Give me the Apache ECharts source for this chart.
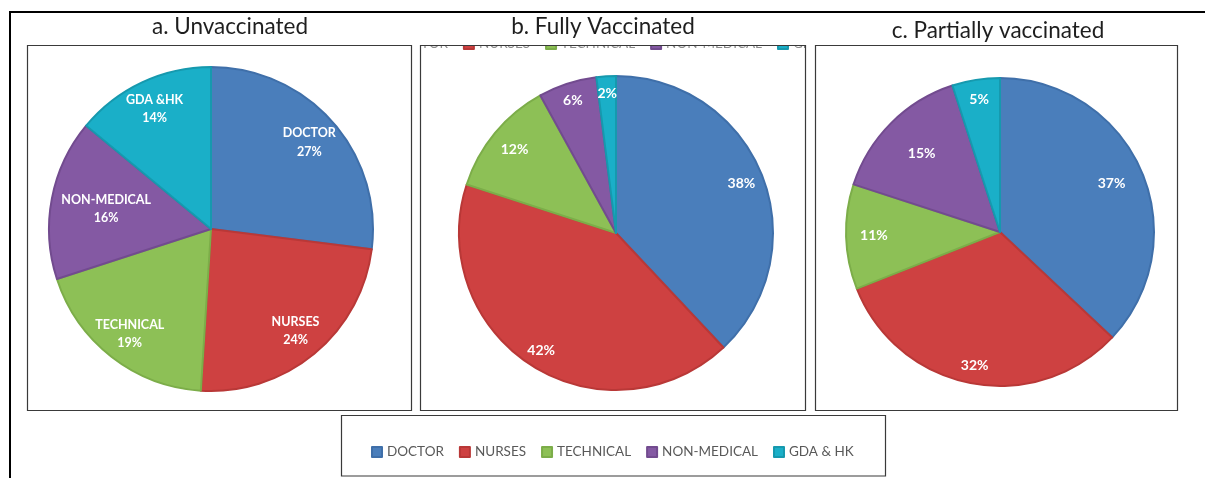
<!DOCTYPE html>
<html><head><meta charset="utf-8">
<script src="https://cdn.jsdelivr.net/npm/echarts@6/dist/echarts.min.js"></script>
<style>html,body{margin:0;padding:0;background:#fff}#c{width:1205px;height:478px}</style>
</head><body><div id="c"></div>
<script>
// ---- data ----
const categories = ['DOCTOR', 'NURSES', 'TECHNICAL', 'NON-MEDICAL', 'GDA & HK'];
const labelNamesA = ['DOCTOR', 'NURSES', 'TECHNICAL', 'NON-MEDICAL', 'GDA &HK'];
const unvaccinated = [27, 24, 19, 16, 14];
const fullyVaccinated = [38, 42, 12, 6, 2];
const partiallyVaccinated = [37, 32, 11, 15, 5];
const titles = ['a. Unvaccinated', 'b. Fully Vaccinated', 'c. Partially vaccinated'];

// ---- styles / layout ----
const colors = ['#4a7ebb', '#ce4141', '#8dc056', '#8459a3', '#1aafc8'];
const borders = ['#3f6fa9', '#b93837', '#7cad49', '#724b8f', '#1699ae'];
const pies = [
  { values: unvaccinated, center: [211, 229], r: 162, fs: 12.5, names: labelNamesA, fracs: [0.79, 0.8, 0.8, 0.64, 0.8] },
  { values: fullyVaccinated, center: [616, 233], r: 157, fs: 14, names: null, fracs: [0.84, 0.87, 0.82, 0.87, 0.87] },
  { values: partiallyVaccinated, center: [1000, 232], r: 154, fs: 14, names: null, fracs: [0.77, 0.86, 0.8, 0.7, 0.85] }
];
const FONT = 'Lato, "Open Sans", sans-serif';

const series = [];
pies.forEach(p => {
  series.push({
    type: 'pie', center: p.center, radius: [0, p.r], startAngle: 90, clockwise: true,
    silent: true, avoidLabelOverlap: false,
    label: { show: false }, labelLine: { show: false }, emphasis: { disabled: true },
    data: p.values.map((v, i) => ({ name: categories[i], value: v,
      itemStyle: { color: colors[i], borderColor: borders[i], borderWidth: 2 } }))
  });
});
// label overlays: transparent rings so the library's 'inside' label lands at the wanted radius
pies.forEach(p => {
  const uniq = [...new Set(p.fracs)];
  uniq.forEach(f => {
    series.push({
      type: 'pie', center: p.center, radius: [p.r * (2 * f - 1), p.r], startAngle: 90, clockwise: true,
      silent: true, avoidLabelOverlap: false, labelLine: { show: false }, emphasis: { disabled: true },
      itemStyle: { color: 'rgba(0,0,0,0)', borderWidth: 0 },
      label: { show: true, position: 'inside', color: '#fff', fontWeight: 'bold', fontSize: p.fs,
        fontFamily: FONT, lineHeight: p.fs + 6, textBorderWidth: 0,
        formatter: prm => (p.names ? p.names[prm.dataIndex] + '\n' : '') + prm.value + '%' },
      data: p.values.map((v, i) => ({ name: categories[i], value: v,
        label: { show: p.fracs[i] === f } }))
    });
  });
});

const legendData = categories.map((n, i) => ({ name: n, itemStyle: { color: colors[i] } }));

const line = (x1, y1, x2, y2, w, c, z) => ({ type: 'line', z: z, silent: true,
  shape: { x1, y1, x2, y2 }, style: { stroke: c, lineWidth: w } });
const box = (x, y, w, h, z) => ({ type: 'rect', z: z, silent: true,
  shape: { x, y, width: w, height: h }, style: { fill: 'none', stroke: '#3a3a3a', lineWidth: 1.2 } });
const cover = (x, y, w, h) => ({ type: 'rect', z: 100, silent: true,
  shape: { x, y, width: w, height: h }, style: { fill: '#fff' } });
const title = (t, x, y) => ({ type: 'text', z: 200, silent: true,
  style: { text: t, x, y, align: 'center', verticalAlign: 'middle', fontSize: 22.5, fontFamily: FONT, fill: '#1e1e1e' } });

const option = {
  animation: false,
  series: series,
  legend: [
    { data: legendData, left: 371, top: 445, padding: 0, itemWidth: 10, itemHeight: 10, itemGap: 15, icon: 'rect',
      selectedMode: false, textStyle: { color: '#595959', fontSize: 13.5, fontFamily: FONT } },
    // clipped legend remnant along the top edge of panel b
    { data: legendData, left: 375, top: 37, padding: 0, itemWidth: 10, itemHeight: 10, itemGap: 15, icon: 'rect',
      selectedMode: false, textStyle: { color: '#8c8c8c', fontSize: 13.5, fontFamily: FONT } }
  ],
  graphic: { elements: [
    cover(300, 28, 120, 26),
    cover(419, 30, 400, 15),
    cover(805.5, 30, 100, 26),
    line(9, 12, 1205, 12, 2, '#000', 150),
    line(10, 11, 10, 478, 2, '#000', 150),
    box(27.5, 45.5, 384, 365, 150),
    box(420.5, 45.5, 385, 365, 150),
    box(815.5, 45.5, 362, 365, 150),
    box(341.5, 415.5, 544, 60.5, 150),
    title(titles[0], 230, 27),
    title(titles[1], 603, 27),
    title(titles[2], 998, 31)
  ] }
};
echarts.init(document.getElementById('c'), null, { renderer: 'canvas' }).setOption(option);
</script></body></html>
